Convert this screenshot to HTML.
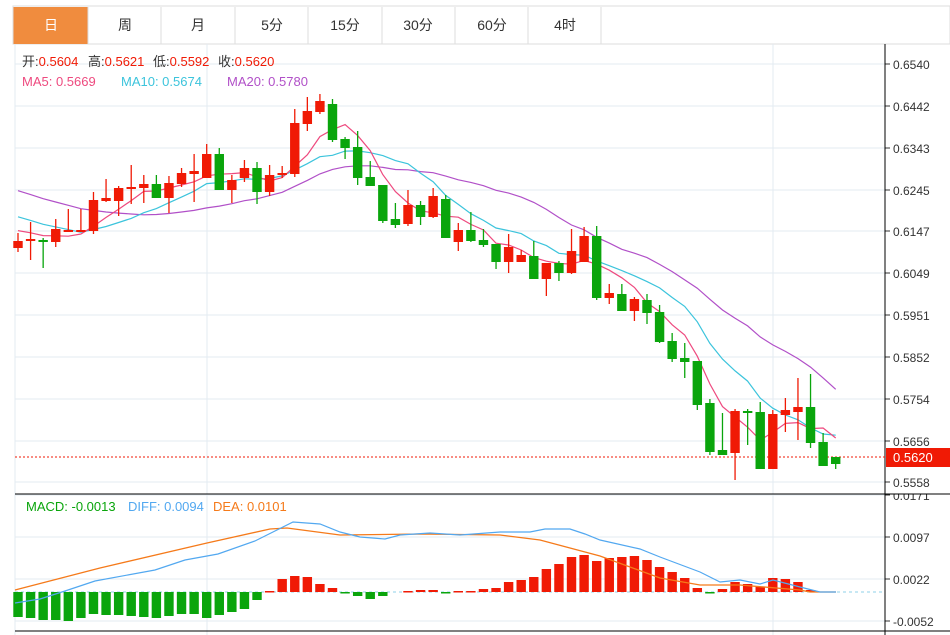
<!DOCTYPE html>
<html><head><meta charset="utf-8"><style>
body{margin:0;background:#fff;width:950px;height:635px;overflow:hidden;font-family:"Liberation Sans","Noto Sans CJK SC",sans-serif;}
svg{position:absolute;left:0;top:0}
</style></head><body>
<svg id="s" width="950" height="635" xmlns="http://www.w3.org/2000/svg" font-family="Liberation Sans, Noto Sans CJK SC, sans-serif"></svg>
<script>
const S=document.getElementById('s');let h='';
const tabs=['日','周','月','5分','15分','30分','60分','4时'];
h='<defs><clipPath id="mc"><rect x="880" y="494" width="70" height="137"/></clipPath></defs>';
h+='<rect x="13" y="6" width="937" height="38" fill="#fff" stroke="#ddd"/><rect x="13.5" y="7" width="75" height="37" fill="#f08c3e"/>';
[88,161,235,308,382,455,528,601].forEach(x=>h+=`<line x1="${x}" y1="7" x2="${x}" y2="44" stroke="#ddd"/>`);
const tc=[51,125,198,272,345,418,492,565];
tabs.forEach((t,i)=>h+=`<text x="${tc[i]}" y="30" font-size="14" text-anchor="middle" fill="${i==0?'#fff':'#333'}">${t}</text>`);
const ticks=[['0.6540',64],['0.6442',106],['0.6343',148],['0.6245',190],['0.6147',231],['0.6049',273],['0.5951',315],['0.5852',357],['0.5754',399],['0.5656',441],['0.5558',482]];
ticks.forEach(t=>{h+=`<line x1="15" y1="${t[1]}" x2="885" y2="${t[1]}" stroke="#e3ebf2"/><line x1="885" y1="${t[1]}" x2="890" y2="${t[1]}" stroke="#333"/><text x="893" y="${t[1]+5}" font-size="12" fill="#333">${t[0]}</text>`});
const mt=[['0.0171',495],['0.0097',537],['0.0022',579],['-0.0052',621],['-0.0126',638]];
mt.forEach(t=>{h+=`<line x1="15" y1="${t[1]}" x2="885" y2="${t[1]}" stroke="#e3ebf2"/><g clip-path="url(#mc)"><line x1="885" y1="${t[1]}" x2="890" y2="${t[1]}" stroke="#333"/><text x="893" y="${t[1]+5}" font-size="12" fill="#333">${t[0]}</text></g>`});
[207,773].forEach(x=>h+=`<line x1="${x}" y1="44" x2="${x}" y2="635" stroke="#e3ebf2"/>`);
h+='<line x1="15" y1="44" x2="15" y2="635" stroke="#e3ebf2"/>';
h+='<line x1="885" y1="44" x2="885" y2="635" stroke="#000"/><line x1="15" y1="494" x2="950" y2="494" stroke="#000"/><line x1="15" y1="631" x2="950" y2="631" stroke="#000"/>';
const C=[[248,241,233,252],[241,239,222,260],[240,242,238,268],[242,229,219,247],[232,230,209,232],[232,230,209,232],[231,200,192,234],[201,198,179,202],[201,188,186,216],[189,187,165,204],[188,184,175,203],[184,198,175,198],[198,183,176,213],[184,173,168,187],[174,171,154,202],[178,154,144,178],[154,190,148,190],[190,180,175,203],[178,168,160,182],[168,192,162,204],[192,175,165,196],[175,173,166,178],[174,123,109,177],[124,111,97,131],[112,101,94,114],[104,140,99,142],[139,148,137,159],[147,178,131,185],[177,186,161,186],[185,221,185,223],[219,225,203,228],[224,205,190,226],[205,217,201,225],[217,196,188,218],[199,238,195,238],[242,230,223,251],[230,241,212,242],[240,245,229,247],[244,262,244,269],[262,247,234,273],[262,255,250,262],[256,279,241,279],[279,263,263,296],[263,273,261,281],[273,251,229,274],[262,236,227,262],[236,298,226,300],[298,293,284,304],[294,311,284,311],[311,299,297,321],[300,313,294,324],[312,342,305,343],[341,359,333,362],[358,362,343,378],[361,405,361,410],[403,452,399,455],[450,455,413,455],[453,411,409,480],[411,413,409,445],[412,469,402,469],[469,414,410,469],[415,410,398,432],[412,407,378,440],[407,443,374,448],[442,466,433,466],[457,464,457,469]];
const X=i=>18+i*12.58;
h+='<line x1="15" y1="457" x2="885" y2="457" stroke="#f01a05" stroke-dasharray="2,2"/>';
const closes=C.map(c=>c[1]);
const pre=[];for(let i=0;i<10;i++)pre.push(160+i);for(let i=0;i<5;i++)pre.push(203);for(let i=0;i<4;i++)pre.push(228);
const all=pre.concat(closes);
function ma(n,col){let p=[];for(let i=0;i<C.length;i++){let s=0;for(let k=0;k<n;k++)s+=all[i+19-k];p.push(X(i).toFixed(1)+','+(s/n).toFixed(1));}
 h+=`<polyline points="${p.join(' ')}" fill="none" stroke="${col}" stroke-width="1.2"/>`;}
ma(20,'#b150c8');ma(10,'#3cc4dc');ma(5,'#ee4a7f');
C.forEach((c,i)=>{const x=X(i);const col=c[1]<=c[0]?'#f01a05':'#0aa50c';
 const t=Math.min(c[0],c[1]),b=Math.max(c[0],c[1]);
 h+=`<line x1="${x}" y1="${c[2]}" x2="${x}" y2="${c[3]}" stroke="${col}" stroke-width="1.3"/><rect x="${x-4.7}" y="${t}" width="9.4" height="${Math.max(b-t,2)}" fill="${col}"/>`;});
h+='<rect x="886" y="448" width="64" height="19" fill="#f01a05"/><text x="893" y="462" font-size="13" fill="#fff">0.5620</text>';
h+='<text font-size="13" fill="#333" y="66"><tspan x="22">开:</tspan><tspan fill="#f01a05">0.5604</tspan><tspan x="88">高:</tspan><tspan fill="#f01a05">0.5621</tspan><tspan x="153">低:</tspan><tspan fill="#f01a05">0.5592</tspan><tspan x="218">收:</tspan><tspan fill="#f01a05">0.5620</tspan></text>';
h+='<text font-size="13" y="86"><tspan x="22" fill="#ee4a7f">MA5: 0.5669</tspan><tspan x="121" fill="#3cc4dc">MA10: 0.5674</tspan><tspan x="227" fill="#b150c8">MA20: 0.5780</tspan></text>';
const H=[-25,-26,-28,-28,-29,-26,-22,-23,-23,-24,-25,-26,-24,-22,-22,-26,-23,-20,-17,-8,1,13,16,15,8,4,-1,-4,-7,-4,0,1,2,2,-1,1,1,3,4,10,12,15,23,28,35,37,31,34,35,36,32,25,20,14,4,-1,3,10,8,5,14,13,10,2,0,0];
h+='<line x1="15" y1="592" x2="885" y2="592" stroke="#8fd0ea" stroke-dasharray="3,3"/>';
H.forEach((v,i)=>{if(v==0)return;const x=X(i);const col=v>0?'#f01a05':'#0aa50c';h+=`<rect x="${x-4.7}" y="${v>0?592-v:592}" width="9.4" height="${Math.max(Math.abs(v),1.5)}" fill="${col}"/>`;});
h+='<polyline fill="none" stroke="#f57a1a" stroke-width="1.3" points="15,590 100,568 207,543 270,529 287,528 340,535 420,534 500,535 540,540 600,556 660,578 700,585 740,585 800,590 810,592 836,592"/>';
h+='<polyline fill="none" stroke="#52a8f0" stroke-width="1.2" points="15,603 40,599 65,591 95,581 155,570 185,560 218,554 255,541 293,522 320,524 340,532 360,537 385,539 400,535 430,533 460,535 500,532 530,532 545,529 570,529 585,534 600,540 640,549 660,557 700,572 720,582 740,580 760,584 773,580 800,587 820,592 836,592"/>';
h+='<text font-size="13" y="511"><tspan x="26" fill="#0aa50c">MACD: -0.0013</tspan><tspan x="128" fill="#52a8f0">DIFF: 0.0094</tspan><tspan x="213" fill="#f57a1a">DEA: 0.0101</tspan></text>';
S.innerHTML=h;
</script>
</body></html>
